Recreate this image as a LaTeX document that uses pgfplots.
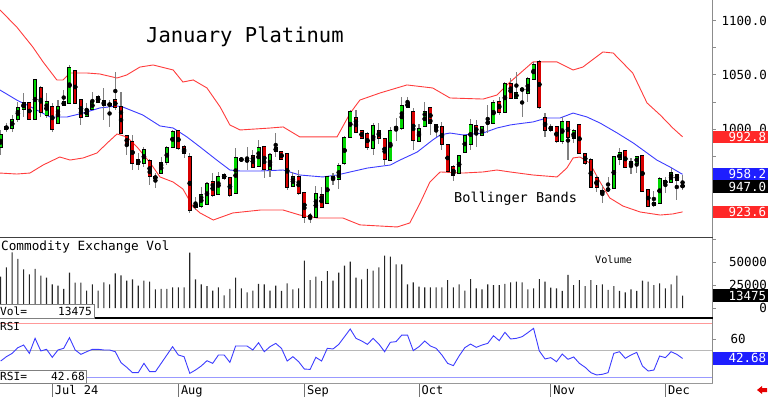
\documentclass[border=0pt]{standalone}
\usepackage{pgfplots}
\pgfplotsset{compat=1.18}
\usepackage{pgfplotstable}
\usepackage{fontspec}
\setmainfont{Liberation Sans}
\newfontfamily\mono{DejaVu Sans Mono}
\definecolor{cgreen}{RGB}{0,215,0}
\definecolor{cred}{RGB}{215,0,0}
\definecolor{bandred}{RGB}{255,60,60}
\definecolor{bandblue}{RGB}{60,60,255}
\definecolor{boxred}{RGB}{255,40,40}
\definecolor{boxblue}{RGB}{30,30,255}

\pgfplotstableread{
x o h l c
0 983.4 999.1 976.0 994.5
1 1000.0 1005.5 997.3 1001.9
2 1000.9 1012.9 997.3 1008.3
3 1009.2 1024.9 1006.5 1019.4
4 1018.4 1033.2 1011.1 1024.0
5 1024.0 1024.9 1008.3 1009.2
6 1009.2 1046.1 1008.3 1045.2
7 1037.8 1039.6 1011.1 1015.7
8 1012.9 1033.2 1010.1 1024.9
9 1020.3 1024.0 997.3 1000.0
10 1005.5 1026.7 1005.5 1020.3
11 1022.1 1035.9 1022.1 1024.9
12 1024.0 1059.0 1023.0 1056.2
13 1053.5 1054.4 1023.0 1024.0
14 1026.7 1026.7 1003.7 1011.1
15 1012.0 1024.0 1011.1 1017.5
16 1018.4 1034.1 1017.5 1024.9
17 1029.5 1031.3 1024.0 1024.9
18 1025.8 1037.8 1008.3 1022.1
19 1022.1 1026.7 1001.9 1023.0
20 1026.7 1052.5 1017.5 1020.3
21 1020.3 1034.1 996.3 996.3
22 993.6 994.5 976.0 985.3
23 988.0 994.5 962.2 968.7
24 971.4 977.9 962.2 967.7
25 968.7 983.4 965.0 980.6
26 970.5 972.3 948.4 956.7
27 954.8 959.4 945.6 955.8
28 959.4 974.2 959.4 968.7
29 969.6 984.4 966.8 982.5
30 983.4 999.1 982.5 997.3
31 998.2 999.1 980.6 982.5
32 983.4 985.3 973.3 977.9
33 974.2 977.9 922.6 925.3
34 928.1 937.3 925.3 930.0
35 929.0 946.5 927.2 939.2
36 930.9 951.1 930.0 949.3
37 951.1 959.4 937.3 939.2
38 940.1 960.4 939.2 955.8
39 957.6 959.4 953.0 954.8
40 954.8 955.8 937.3 939.2
41 941.0 982.5 941.0 973.3
42 972.3 974.2 969.6 971.4
43 970.5 983.4 962.2 971.4
44 975.1 980.6 965.0 965.0
45 965.9 989.9 965.0 982.5
46 983.4 984.4 954.8 963.1
47 963.1 977.9 955.8 976.0
48 979.7 996.3 974.2 982.5
49 978.8 978.8 971.4 972.3
50 977.0 977.9 943.8 946.5
51 947.5 960.4 946.5 955.8
52 955.8 962.2 939.2 941.0
53 941.0 941.0 913.4 918.9
54 919.8 922.6 913.4 918.9
55 918.9 947.5 918.9 940.1
56 939.2 946.5 927.2 928.1
57 931.8 956.7 931.8 955.8
58 955.8 959.4 948.4 953.9
59 953.9 968.7 944.7 965.9
60 968.7 993.6 966.8 991.7
61 992.7 1017.5 991.7 1015.7
62 1010.1 1017.5 996.3 997.3
63 998.2 999.1 990.8 991.7
64 995.4 997.3 980.6 983.4
65 982.5 1005.5 976.0 1002.8
66 998.2 1005.5 986.2 991.7
67 990.8 991.7 966.8 972.3
68 971.4 1001.9 970.5 998.2
69 1001.4 1010.1 989.0 1000.5
70 1000.9 1029.5 999.1 1021.2
71 1024.0 1029.5 1020.3 1020.3
72 1015.7 1019.4 980.6 989.9
73 989.0 1004.6 988.0 1000.0
74 1002.8 1024.9 1001.9 1015.7
75 1019.4 1020.3 994.5 1005.5
76 1003.7 1004.6 992.7 1000.0
77 1001.9 1006.5 980.6 986.2
78 985.3 986.2 960.4 961.3
79 965.0 966.8 952.1 957.6
80 959.4 976.0 959.4 975.1
81 978.8 994.5 977.9 993.6
82 986.2 1009.2 980.6 1003.7
83 1002.8 1008.3 983.4 996.3
84 994.5 1001.9 993.6 1001.9
85 1005.5 1022.1 996.3 1006.0
86 1005.5 1026.7 1004.6 1024.0
87 1024.9 1029.5 1012.9 1015.7
88 1015.7 1043.3 1014.7 1041.5
89 1041.5 1047.0 1027.6 1028.6
90 1028.6 1052.5 1027.6 1033.2
91 1036.9 1037.8 1011.1 1035.9
92 1033.2 1047.9 1024.9 1046.1
93 1046.1 1061.8 1045.2 1059.0
94 1061.8 1063.6 1018.4 1020.3
95 1010.1 1014.7 992.7 999.1
96 999.1 1004.6 997.3 1001.9
97 1001.9 1002.8 987.1 989.0
98 989.0 1011.1 986.2 1006.5
99 1006.5 1007.4 971.4 992.7
100 991.7 1000.0 987.1 998.2
101 1003.7 1004.6 977.9 977.9
102 977.0 977.9 966.8 968.7
103 971.4 973.3 945.6 946.5
104 954.8 957.6 941.9 946.5
105 941.0 948.4 931.8 942.9
106 943.8 955.8 941.9 944.7
107 945.6 975.1 944.7 974.2
108 972.3 982.5 966.8 977.9
109 979.7 980.6 965.0 965.0
110 965.9 973.3 958.5 969.6
111 968.7 975.1 959.4 974.2
112 975.1 976.0 941.9 942.9
113 943.8 944.7 928.1 929.0
114 930.0 942.9 928.1 931.8
115 931.8 955.8 930.9 953.9
116 952.1 955.8 941.0 950.2
117 951.1 964.0 950.2 959.4
118 957.6 958.5 934.6 953.0
119 947.8 957.6 943.8 947.0
}\candles

\pgfplotstableread{
x v
0 34000
1 44200
2 60500
3 53300
4 42000
5 36600
6 42400
7 35100
8 33000
9 25700
10 24300
11 20700
12 38400
13 27500
14 27500
15 18800
16 25700
17 18800
18 27900
19 25700
20 37700
21 35500
22 29700
23 31200
24 24300
25 29700
26 28600
27 20300
28 20700
29 20700
30 22500
31 22500
32 22500
33 60100
34 31200
35 25700
36 23900
37 18800
38 22500
39 13800
40 20700
41 33000
42 21400
43 17000
44 18800
45 26100
46 25700
47 18800
48 24300
49 18500
50 26800
51 20300
52 21400
53 51400
54 30400
55 34000
56 29300
57 40200
58 29700
59 38400
60 46000
61 50400
62 33000
63 31200
64 42400
65 40600
66 44200
67 56900
68 55800
69 47500
70 47500
71 25700
72 27900
73 23200
74 22500
75 22500
76 22500
77 22500
78 30400
79 22500
80 25700
81 18800
82 31500
83 21400
84 20300
85 25700
86 25000
87 25000
88 26100
89 27900
90 28600
91 27900
92 20300
93 21400
94 31500
95 28600
96 22100
97 21400
98 18500
99 35900
100 25000
101 30400
102 23900
103 30400
104 25000
105 25700
106 19600
107 23900
108 18500
109 17000
110 20300
111 18500
112 29700
113 28600
114 25000
115 26800
116 21400
117 25700
118 35100
119 13475
}\vol

\pgfplotstableread{
x r
0 40.3
1 44.3
2 47.3
3 52.5
4 54.9
5 47.3
6 61.0
7 49.5
8 51.0
9 43.7
10 50.4
11 51.9
12 61.6
13 50.4
14 46.4
15 48.8
16 51.0
17 51.0
18 50.4
19 50.4
20 48.8
21 38.8
22 34.6
23 29.7
24 29.7
25 38.2
26 30.6
27 30.6
28 38.2
29 45.8
30 53.4
31 45.8
32 44.3
33 29.1
34 32.1
35 35.8
36 40.6
37 38.2
38 45.8
39 45.8
40 39.1
41 54.0
42 54.0
43 54.0
44 50.4
45 57.0
46 48.8
47 53.4
48 56.4
49 51.9
50 40.3
51 44.3
52 39.7
53 33.0
54 32.7
55 43.7
56 40.3
57 51.9
58 51.3
59 55.5
60 62.5
61 69.5
62 61.0
63 58.6
64 55.5
65 61.0
66 55.8
67 48.8
68 57.4
69 58.0
70 64.0
71 64.0
72 49.8
73 53.4
74 58.6
75 54.0
76 51.9
77 45.8
78 38.2
79 36.1
80 44.9
81 52.5
82 55.8
83 52.8
84 54.9
85 56.4
86 63.4
87 58.9
88 66.5
89 60.4
90 61.0
91 62.5
92 66.2
93 70.1
94 49.5
95 42.2
96 43.4
97 39.7
98 46.7
99 41.9
100 44.0
101 38.2
102 34.6
103 29.7
104 27.6
105 28.2
106 29.7
107 47.3
108 48.8
109 42.8
110 45.8
111 48.2
112 35.8
113 31.2
114 32.1
115 44.9
116 43.4
117 48.8
118 46.4
119 42.68
}\rsi

\pgfplotsset{panel/.style={scale only axis, width=712pt, xmin=-0.122, xmax=124.14,
  anchor=south west, clip=false, axis line style={draw=none}, xtick=\empty,
  ytick pos=right, yticklabels={}, tick align=outside,
  major tick length=3.5pt, ytick style={black!45, line width=0.6pt}}}

\newcommand{\rlab}[2]{\node[anchor=east, inner sep=0pt, font=\mono\fontsize{12.5}{13}\selectfont] at ([xshift=55pt]axis cs:124.14,#1) {#2};}
\newcommand{\rbox}[3]{\node[fill=#2, text=white, anchor=west, inner xsep=2pt, inner ysep=0pt, minimum height=12.5pt, text width=51pt, align=right, font=\mono\fontsize{12.5}{13}\selectfont] at ([xshift=1pt]axis cs:124.14,#1) {#3};}
\newcommand{\mlab}[2]{\draw[black!55, line width=0.8pt] (axis cs:#1,20.28) -- ++(0pt,-14pt);
  \node[anchor=base west, inner sep=0pt, font=\mono\fontsize{12}{12}\selectfont] at ([xshift=2.5pt, yshift=-11.3pt]axis cs:#1,20.28) {#2};}

\begin{document}
\begin{tikzpicture}[x=1pt,y=1pt]
\useasboundingbox (0pt,0pt) rectangle (768pt,397pt);
\coordinate (Pp) at (0pt,160pt);
\coordinate (Pv) at (0pt,79pt);
\coordinate (Pr) at (0pt,14pt);

% ---------------- price panel
\begin{axis}[panel, at={(Pp)}, height=237pt, ymin=900.45, ymax=1118.9,
  ytick={925,950,...,1100}]
\addplot[bandred, line width=0.9pt] coordinates {(-0.12,1109.7) (2.8,1094.0) (5.6,1075.6) (7.4,1061.8) (9.8,1045.2) (10.9,1045.2) (12.1,1051.6) (15.1,1051.6) (17.3,1050.7) (20.3,1047.0) (22.0,1049.8) (24.3,1057.1) (26.6,1059.0) (30.1,1054.4) (31.8,1043.3) (33.6,1045.2) (36.0,1037.8) (38.3,1020.3) (40.0,1003.7) (41.8,999.1) (47.0,1000.9) (49.3,1001.9) (52.2,992.7) (58.7,992.7) (61.0,1014.7) (62.7,1026.7) (66.2,1033.2) (70.9,1040.6) (75.4,1037.8) (78.4,1028.6) (84.2,1027.6) (86.6,1031.3) (88.9,1043.3) (92.9,1061.8) (97.1,1061.8) (99.9,1054.4) (101.6,1057.1) (105.1,1071.0) (106.9,1070.0) (110.3,1051.6) (112.8,1024.0) (115.1,1012.9) (117.3,1000.9) (119,992.8)};
\addplot[bandred, line width=0.9pt] coordinates {(-0.12,959.4) (2.8,958.5) (5.1,959.4) (7.4,966.8) (10.3,974.2) (12.1,971.4) (14.4,973.3) (16.8,977.9) (18.6,987.1) (20.3,995.4) (22.0,992.7) (23.8,983.4) (26.1,968.7) (27.8,955.8) (30.1,951.1) (31.8,944.7) (33.6,928.1) (34.8,922.6) (37.1,916.1) (40.5,922.6) (45.3,925.3) (49.3,925.3) (52.2,920.7) (55.2,918.0) (59.7,918.0) (62.7,911.6) (69.2,909.7) (71.4,913.4) (73.2,931.8) (74.9,951.1) (76.7,960.4) (80.7,959.4) (84.2,960.4) (86.6,962.2) (88.9,960.4) (92.9,957.6) (97.1,955.8) (98.8,964.0) (99.9,973.3) (101.1,974.2) (102.8,968.7) (104.6,951.1) (106.3,936.4) (108.6,929.0) (111.6,923.5) (115.1,920.7) (117.3,921.7) (119,923.6)};
\addplot[bandblue, line width=0.9pt] coordinates {(-0.12,1035.9) (2.8,1026.7) (5.6,1019.4) (8.6,1011.1) (11.6,1011.1) (14.4,1014.7) (17.3,1019.4) (20.3,1021.2) (21.3,1020.3) (24.8,1012.9) (27.8,1002.8) (30.1,1000.9) (32.5,992.7) (34.8,983.4) (37.7,971.4) (40.0,962.2) (41.8,961.3) (45.3,961.3) (49.3,962.2) (52.2,957.6) (56.2,955.8) (58.7,957.6) (61.0,960.4) (64.0,964.0) (68.0,966.8) (69.7,971.4) (72.7,978.8) (75.4,989.9) (76.7,994.5) (78.4,996.3) (80.7,994.5) (84.2,996.3) (86.6,1000.9) (88.9,1003.7) (90.1,1004.6) (92.9,1006.5) (95.3,1010.1) (97.6,1010.1) (99.9,1014.7) (102.3,1011.1) (104.6,1005.5) (107.6,996.3) (110.4,987.1) (112.1,980.6) (114.5,971.4) (116.8,965.0) (119,958.2)};
% wicks
\addplot[only marks, mark=none, error bars/.cd, y dir=both, y explicit, error mark=none,
  error bar style={line width=1.1pt, black!50}]
  table[x=x, y expr={(\thisrow{h}+\thisrow{l})/2}, y error expr={(\thisrow{h}-\thisrow{l})/2}] {\candles};
% body outlines
\addplot[only marks, mark=none, error bars/.cd, y dir=both, y explicit, error mark=none,
  error bar style={line width=4pt, black}]
  table[x=x, y expr={(\thisrow{o}+\thisrow{c})/2}, y error expr={max(abs(\thisrow{c}-\thisrow{o})/2,0.6)+0.6}] {\candles};
% up bodies
\addplot[only marks, mark=none, restrict expr to domain={\thisrow{c}-\thisrow{o}}{0:1000},
  error bars/.cd, y dir=both, y explicit, error mark=none,
  error bar style={line width=2.6pt, cgreen}]
  table[x=x, y expr={(\thisrow{o}+\thisrow{c})/2}, y error expr={max(abs(\thisrow{c}-\thisrow{o})/2,0.6)}] {\candles};
% down bodies
\addplot[only marks, mark=none, restrict expr to domain={\thisrow{c}-\thisrow{o}}{-1000:-0.001},
  error bars/.cd, y dir=both, y explicit, error mark=none,
  error bar style={line width=2.6pt, cred}]
  table[x=x, y expr={(\thisrow{o}+\thisrow{c})/2}, y error expr={max(abs(\thisrow{c}-\thisrow{o})/2,0.6)}] {\candles};
\rlab{1100}{1100.0}
\rlab{1050}{1050.0}
\rlab{1000}{1000.0}
\rbox{992.8}{boxred}{992.8}
\rbox{958.2}{boxblue}{958.2}
\rbox{947.0}{black}{947.0}
\rbox{923.6}{boxred}{923.6}
\end{axis}

% ---------------- volume panel
\begin{axis}[panel, at={(Pv)}, height=80pt, ymin=-10870, ymax=76090,
  ytick={0,25000,50000,75000}, scaled y ticks=false]
\addplot[ybar, bar width=1.1pt, fill=black!85, draw=none] table[x=x, y=v] {\vol};
\rlab{50000}{50000}
\rlab{25000}{25000}
\rlab{0}{0}
\rbox{13475}{black}{13475}
\end{axis}

% ---------------- RSI panel
\begin{axis}[panel, at={(Pr)}, height=65pt, ymin=20.28, ymax=79.54,
  ytick={20,40,60,80}]
\addplot[red!40, line width=0.8pt] coordinates {(-0.122,75) (124.14,75)};
\addplot[black!28, line width=0.8pt] coordinates {(-0.122,50) (124.14,50)};
\addplot[blue!40, line width=0.8pt] coordinates {(-0.122,25) (124.14,25)};
\addplot[bandblue, line width=0.9pt] table[x=x, y=r] {\rsi};
\node[anchor=west, inner sep=0pt, font=\mono\fontsize{12.5}{13}\selectfont] at ([xshift=18.5pt]axis cs:124.14,60) {60};
\rbox{42.68}{boxblue}{42.68}
\mlab{9}{Jul 24}
\mlab{31}{Aug}
\mlab{53}{Sep}
\mlab{73}{Oct}
\mlab{96}{Nov}
\mlab{116}{Dec}
\end{axis}

% ---------------- frame lines
\draw[black!45, line width=0.8pt] (712.5pt,14pt) -- (712.5pt,397pt);
\draw[black!75, line width=1.4pt] (0pt,159.3pt) -- (712.5pt,159.3pt);
\draw[black, line width=1.2pt] (0pt,79pt) -- (712.5pt,79pt);
\draw[black!40, line width=0.8pt] (0pt,14pt) -- (712.5pt,14pt);

% ---------------- texts
\node[anchor=base west, inner sep=0pt, font=\mono\fontsize{20.5}{21}\selectfont] at (146pt,354pt) {January Platinum};
\node[anchor=base west, inner sep=0pt, font=\mono\fontsize{13.6}{14}\selectfont] at (454pt,195pt) {Bollinger Bands};
\node[anchor=base west, inner sep=0pt, font=\mono\fontsize{12.7}{13}\selectfont] at (1pt,147pt) {Commodity Exchange Vol};
\node[anchor=base west, inner sep=0pt, font=\mono\fontsize{10.2}{11}\selectfont] at (595pt,134pt) {Volume};
\node[anchor=base west, inner sep=0pt, font=\mono\fontsize{11}{11}\selectfont] at (0pt,66.5pt) {RSI};

\draw[black!50, fill=white, line width=0.8pt] (-1pt,78.7pt) rectangle (94pt,92.7pt);
\node[anchor=base west, inner sep=0pt, font=\mono\fontsize{11.2}{11}\selectfont] at (0pt,82pt) {Vol=};
\node[anchor=base east, inner sep=0pt, font=\mono\fontsize{11.2}{11}\selectfont] at (92pt,82pt) {13475};
\draw[black!50, fill=white, line width=0.8pt] (-1pt,13.7pt) rectangle (86pt,26.3pt);
\node[anchor=base west, inner sep=0pt, font=\mono\fontsize{11.2}{11}\selectfont] at (0pt,16.3pt) {RSI=};
\node[anchor=base east, inner sep=0pt, font=\mono\fontsize{11.2}{11}\selectfont] at (85pt,16.3pt) {42.68};

\fill[red!90!black] (757pt,7pt) -- (762pt,11pt) -- (762pt,9pt) -- (767pt,9pt) -- (767pt,5pt) -- (762pt,5pt) -- (762pt,3pt) -- cycle;
\end{tikzpicture}
\end{document}
